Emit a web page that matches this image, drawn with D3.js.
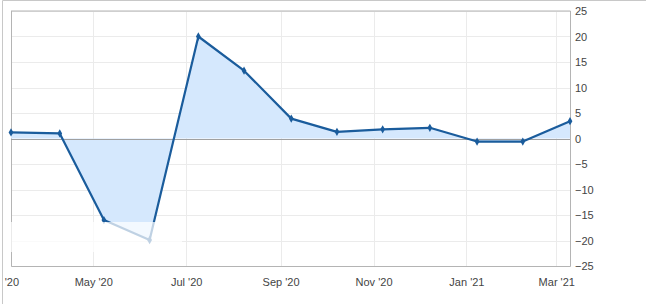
<!DOCTYPE html>
<html>
<head>
<meta charset="utf-8">
<script src="https://cdn.jsdelivr.net/npm/d3@7"></script>
<style>
  body { margin: 0; background: #fff; }
  svg { display: block; font-family: "Liberation Sans", Arial, sans-serif; }
</style>
</head>
<body>
<script>
// monthly readings, Mar '20 .. Mar '21
var dates = ["2020-03-08", "2020-04-09", "2020-05-08", "2020-06-07", "2020-07-09", "2020-08-08",
  "2020-09-08", "2020-10-08", "2020-11-07", "2020-12-08", "2021-01-08", "2021-02-07", "2021-03-10"];
var values = [1.2, 1.0, -16.0, -19.9, 20.0, 13.3, 3.9, 1.3, 1.8, 2.1, -0.6, -0.6, 3.4];
var yTicks = [-25, -20, -15, -10, -5, 0, 5, 10, 15, 20, 25];
var xTicks = ["2020-03-01", "2020-05-01", "2020-07-01", "2020-09-01", "2020-11-01", "2021-01-01", "2021-03-01"];

(function () {
  var width = 646, height = 304;
  var mLeft = 11, mRight = 570, mTop = 11, mBottom = 266;

  var parse = d3.timeParse("%Y-%m-%d");
  var data = dates.map(function (d, i) { return { date: parse(d), value: values[i] }; });

  var x = d3.scaleTime().domain(d3.extent(data, function (d) { return d.date; })).range([mLeft, mRight]);
  var y = d3.scaleLinear().domain([-25, 25]).range([mBottom, mTop]);

  var svg = d3.select("body").append("svg")
    .attr("width", width)
    .attr("height", height);

  // outer frame
  svg.append("path")
    .attr("d", "M2.5," + height + "V0.5H" + width)
    .attr("fill", "none")
    .attr("stroke", "#c8c8c8");

  svg.append("clipPath").attr("id", "plot")
    .append("rect").attr("x", mLeft).attr("y", mTop).attr("width", mRight - mLeft).attr("height", mBottom - mTop);
  svg.append("clipPath").attr("id", "inner")
    .append("rect").attr("x", 3).attr("y", 1).attr("width", width - 3).attr("height", height - 1);

  // grid
  svg.append("g").selectAll("line")
    .data(yTicks)
    .enter().append("line")
    .attr("x1", mLeft).attr("x2", mRight)
    .attr("y1", function (d) { return Math.round(y(d)) + 0.5; })
    .attr("y2", function (d) { return Math.round(y(d)) + 0.5; })
    .attr("stroke", "#ebebeb");

  svg.append("g").selectAll("line")
    .data(xTicks.map(parse).filter(function (d) { return x(d) > mLeft + 2; }))
    .enter().append("line")
    .attr("x1", function (d) { return Math.round(x(d)) + 0.5; })
    .attr("x2", function (d) { return Math.round(x(d)) + 0.5; })
    .attr("y1", mTop).attr("y2", mBottom)
    .attr("stroke", "#ebebeb");

  // frame of plot
  svg.append("path")
    .attr("d", "M" + (mLeft + 0.5) + "," + mTop + "V" + (mBottom + 0.5) + "H" + (mRight + 0.5) + "V" + mTop + "H" + mLeft)
    .attr("fill", "none")
    .attr("stroke", "#b4b4b4");

  // area to zero
  var area = d3.area()
    .x(function (d) { return x(d.date); })
    .y0(y(0))
    .y1(function (d) { return y(d.value); });

  svg.append("path")
    .datum(data)
    .attr("clip-path", "url(#plot)")
    .attr("d", area)
    .attr("fill", "#d5e8fd");

  // zero line
  svg.append("line")
    .attr("x1", mLeft).attr("x2", mRight)
    .attr("y1", Math.round(y(0)) + 0.5).attr("y2", Math.round(y(0)) + 0.5)
    .attr("stroke", "#a0a0a0");

  var line = d3.line()
    .x(function (d) { return x(d.date); })
    .y(function (d) { return y(d.value); });

  svg.append("path")
    .datum(data)
    .attr("d", line)
    .attr("fill", "none")
    .attr("stroke", "#1a5c9c")
    .attr("stroke-width", 2.2)
    .attr("stroke-linejoin", "round");

  svg.append("g").selectAll("path")
    .data(data)
    .enter().append("path")
    .attr("transform", function (d) { return "translate(" + x(d.date) + "," + y(d.value) + ")"; })
    .attr("d", d3.symbol().type(d3.symbolDiamond).size(20))
    .attr("fill", "#1a5c9c");

  // faded patch seen in the screenshot
  svg.append("rect")
    .attr("x", 6).attr("y", 222)
    .attr("width", 176).attr("height", 30)
    .attr("fill", "#fff")
    .attr("opacity", 0.72);

  // right axis
  var yAxis = svg.append("g")
    .attr("transform", "translate(" + mRight + ",0)")
    .call(d3.axisRight(y).tickValues(yTicks).tickSize(0).tickPadding(5));
  yAxis.select(".domain").remove();
  yAxis.selectAll("text").attr("font-size", 11).attr("fill", "#444").attr("font-family", "Liberation Sans, Arial, sans-serif");

  // bottom axis (first label is cut by the outer frame)
  var xAxis = svg.append("g")
    .attr("clip-path", "url(#inner)")
    .append("g")
    .attr("transform", "translate(0," + mBottom + ")")
    .call(d3.axisBottom(x).tickValues(xTicks.map(parse)).tickFormat(d3.timeFormat("%b '%y")).tickSize(0).tickPadding(12));
  xAxis.select(".domain").remove();
  xAxis.selectAll("text").attr("font-size", 11).attr("fill", "#444").attr("font-family", "Liberation Sans, Arial, sans-serif");
})();
</script>
</body>
</html>
